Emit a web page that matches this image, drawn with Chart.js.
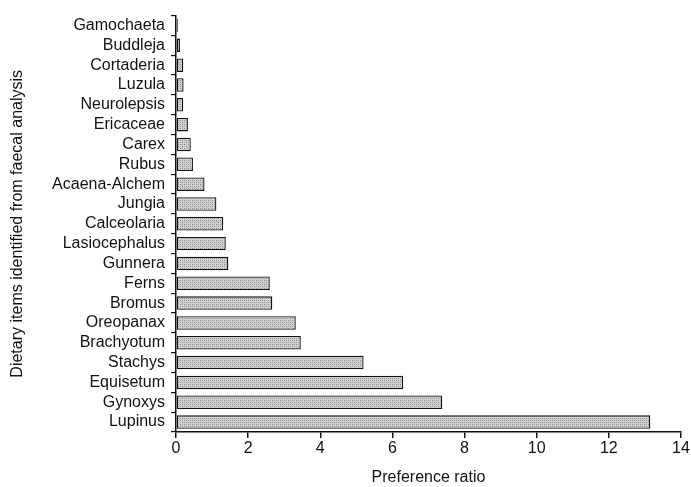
<!DOCTYPE html>
<html>
<head>
<meta charset="utf-8">
<script src="https://cdn.jsdelivr.net/npm/chart.js@4.4.1/dist/chart.umd.min.js"></script>
<style>
  html, body { margin: 0; padding: 0; background: #fff; }
  #wrap { width: 691px; height: 487px; }
</style>
</head>
<body>
<div id="wrap"><canvas id="chart"></canvas></div>
<script>
// dietary items, top to bottom as in the figure
const items = ['Gamochaeta', 'Buddleja', 'Cortaderia', 'Luzula', 'Neurolepsis', 'Ericaceae',
  'Carex', 'Rubus', 'Acaena-Alchem', 'Jungia', 'Calceolaria', 'Lasiocephalus', 'Gunnera',
  'Ferns', 'Bromus', 'Oreopanax', 'Brachyotum', 'Stachys', 'Equisetum', 'Gynoxys', 'Lupinus'];
const preferenceRatio = [0.05, 0.11, 0.20, 0.21, 0.20, 0.33, 0.41, 0.47, 0.79, 1.12, 1.31,
  1.38, 1.45, 2.60, 2.67, 3.32, 3.46, 5.20, 6.30, 7.38, 13.15];
const xTicks = [0, 2, 4, 6, 8, 10, 12, 14];

// halftone-ish grey fill for the bars
function stipple() {
  const c = document.createElement('canvas');
  c.width = 4; c.height = 4;
  const g = c.getContext('2d');
  g.fillStyle = '#d0d0d0';
  g.fillRect(0, 0, 4, 4);
  g.fillStyle = '#888';
  g.fillRect(0, 0, 1, 1);
  g.fillRect(2, 2, 1, 1);
  g.fillStyle = '#a8a8a8';
  g.fillRect(2, 0, 1, 1);
  g.fillRect(0, 2, 1, 1);
  return g.createPattern(c, 'repeat');
}

const font = { family: '"Liberation Sans", Arial, sans-serif', size: 16 };

new Chart(document.getElementById('chart'), {
  type: 'bar',
  data: {
    labels: items,
    datasets: [{
      data: preferenceRatio,
      backgroundColor: stipple(),
      borderColor: '#111',
      borderWidth: 1.3,
      borderSkipped: false,
      barPercentage: 0.68,
      categoryPercentage: 1.0
    }]
  },
  options: {
    indexAxis: 'y',
    responsive: true,
    maintainAspectRatio: false,
    animation: false,
    layout: { padding: { top: 9, right: 10, bottom: 0, left: 0 } },
    plugins: { legend: { display: false }, tooltip: { enabled: false } },
    scales: {
      x: {
        min: 0,
        max: 14,
        afterBuildTicks: s => { s.ticks = xTicks.map(v => ({ value: v })); },
        afterFit: s => { s.height = 55; },
        border: { color: '#111', width: 1.5 },
        grid: { drawOnChartArea: false, drawTicks: true, tickLength: 6, color: '#111', lineWidth: 1.5 },
        ticks: { color: '#111', font: font, padding: 1 },
        title: { display: true, text: 'Preference ratio', color: '#111', font: font, padding: { top: 0, bottom: 0 } }
      },
      y: {
        afterFit: s => { s.width = 176; },
        border: { color: '#111', width: 1.5 },
        grid: { offset: true, drawOnChartArea: false, drawTicks: true, tickLength: 5, color: '#111', lineWidth: 1.2 },
        ticks: { color: '#111', font: font, padding: 6, autoSkip: false },
        title: { display: true, text: 'Dietary items identified from faecal analysis', color: '#111', font: font, padding: { top: 8, bottom: 0 } }
      }
    }
  }
});
</script>
</body>
</html>
